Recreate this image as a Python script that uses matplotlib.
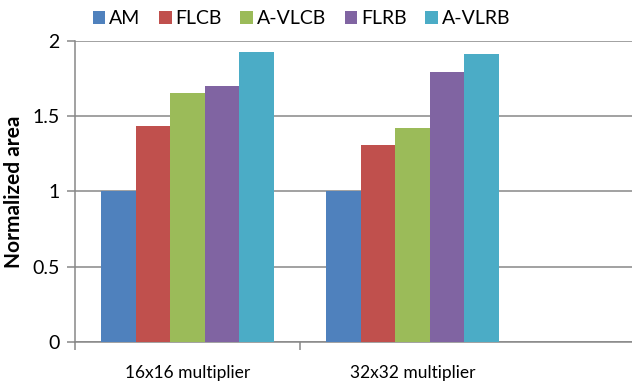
import numpy as np
import matplotlib
matplotlib.use("Agg")
import matplotlib.pyplot as plt

plt.rcParams['font.family'] = ['Lato', 'DejaVu Sans']

# dados
grupos = ['16x16 multiplier', '32x32 multiplier']
series = ['AM', 'FLCB', 'A-VLCB', 'FLRB', 'A-VLRB']
valores = {
    'AM':     [1.00, 1.00],
    'FLCB':   [1.436, 1.309],
    'A-VLCB': [1.658, 1.425],
    'FLRB':   [1.703, 1.798],
    'A-VLRB': [1.931, 1.918],
}
cores = ['#4F81BD', '#C0504D', '#9BBB59', '#8064A2', '#4BACC6']
yticks = [0, 0.5, 1, 1.5, 2]
ytick_labels = ['0', '0.5', '1', '1.5', '2']

fig = plt.figure(figsize=(6.32, 3.85), dpi=100)
ax = fig.add_axes([0.1187, 0.1125, 1 - 0.1187, 0.8927 - 0.1125])

x = np.arange(len(grupos))
largura = 0.1535
for i, (s, c) in enumerate(zip(series, cores)):
    pos = x + (i - 2) * largura
    ax.bar(pos, valores[s], width=largura, color=c, label=s, zorder=3)

ax.set_xlim(-0.5, 1.976)
ax.set_ylim(0, 2)
ax.set_yticks(yticks)
ax.set_yticklabels(ytick_labels, fontsize=14)
ax.yaxis.grid(True, color='#878787', linewidth=1.1, zorder=0)

# ticks do eixo x entre categorias, rótulos centrados nos grupos
ax.set_xticks([-0.5, 0.5])
ax.set_xticklabels([])
ax.set_xticks(x, minor=True)
ax.set_xticklabels(grupos, minor=True, fontsize=12.5)
ax.tick_params(axis='x', which='minor', length=0, pad=17)
ax.tick_params(axis='x', which='major', length=6, color='#878787', width=1.1)
ax.tick_params(axis='y', length=6, color='#878787', width=1.1, pad=5)

for lado in ['top', 'right']:
    ax.spines[lado].set_visible(False)
for lado in ['left', 'bottom']:
    ax.spines[lado].set_color('#878787')
    ax.spines[lado].set_linewidth(1.1)

ax.set_ylabel('Normalized area', fontsize=15, fontweight='bold')
ax.yaxis.set_label_coords(-0.092, 0.5)

fig.legend(loc='center', bbox_to_anchor=(0.477, 0.952), ncol=5, frameon=False,
           fontsize=14, handlelength=0.65, handleheight=0.65, handletextpad=0.2,
           columnspacing=0.95)

fig.savefig('out.png', dpi=100)
